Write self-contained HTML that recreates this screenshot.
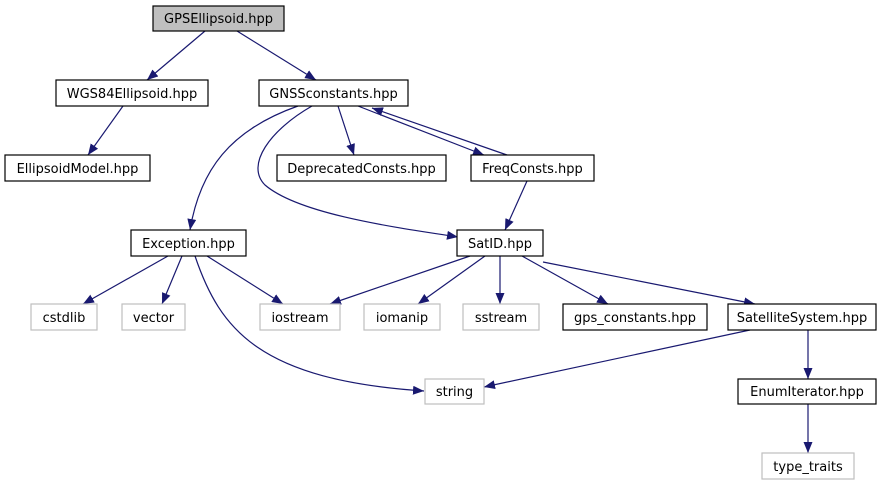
<!DOCTYPE html>
<html><head><meta charset="utf-8"><style>
html,body{margin:0;padding:0;background:#fff;}
svg{display:block;}
text{font-family:"DejaVu Sans","Liberation Sans",sans-serif;font-size:13px;fill:#000;}
.n{fill:#fff;stroke:#000;stroke-width:1.2;}
.g{fill:#fff;stroke:#bfbfbf;stroke-width:1.2;}
.e{fill:none;stroke:#191970;stroke-width:1.2;}
</style></head><body>
<svg width="887" height="485" viewBox="0 0 887 485" xmlns="http://www.w3.org/2000/svg">
<defs><marker id="a" markerWidth="11" markerHeight="9" refX="11" refY="4.5" orient="auto" markerUnits="userSpaceOnUse"><path d="M0,0 L11,4.5 L0,9 Z" fill="#191970"/></marker></defs>
<g class="e" marker-end="url(#a)">
<path d="M205,31 L147,80"/>
<path d="M237,31 L316,80"/>
<path d="M123,106 L88,155"/>
<path d="M338,106 L354,155"/>
<path d="M358,106 L484,155"/>
<path d="M507,155 L372,108"/>
<path d="M527,181 L505,230"/>
<path d="M298,106 C230,130 200,170 190,230"/>
<path d="M312,106 C270,130 245,165 265,185 C300,215 400,228 458,237"/>
<path d="M168,256 L83,304"/>
<path d="M182,256 L162,304"/>
<path d="M207,256 L283,304"/>
<path d="M195,256 C220,330 260,380 424,391"/>
<path d="M470,256 L330,304"/>
<path d="M485,256 L418,304"/>
<path d="M500,256 L500,304"/>
<path d="M522,256 L608,304"/>
<path d="M543,262 L755,304"/>
<path d="M750,330 L484,387"/>
<path d="M808,330 L808,379"/>
<path d="M808,404 L808,453"/>
</g>
<rect x="153" y="6" width="131" height="25" fill="#bfbfbf" stroke="#000" stroke-width="1.2"/><text x="218.5" y="23" text-anchor="middle">GPSEllipsoid.hpp</text>
<rect class="n" x="56" y="80" width="152" height="26"/><text x="132" y="98" text-anchor="middle">WGS84Ellipsoid.hpp</text>
<rect class="n" x="259" y="80" width="149" height="26"/><text x="333.5" y="98" text-anchor="middle">GNSSconstants.hpp</text>
<rect class="n" x="5" y="155" width="145" height="26"/><text x="77.5" y="173" text-anchor="middle">EllipsoidModel.hpp</text>
<rect class="n" x="277" y="155" width="169" height="26"/><text x="361.5" y="173" text-anchor="middle">DeprecatedConsts.hpp</text>
<rect class="n" x="471" y="155" width="123" height="26"/><text x="532.5" y="173" text-anchor="middle">FreqConsts.hpp</text>
<rect class="n" x="131" y="230" width="115" height="26"/><text x="188.5" y="248" text-anchor="middle">Exception.hpp</text>
<rect class="n" x="457" y="230" width="86" height="26"/><text x="500" y="248" text-anchor="middle">SatID.hpp</text>
<rect class="g" x="31" y="304" width="66" height="26"/><text x="64" y="322" text-anchor="middle">cstdlib</text>
<rect class="g" x="122" y="304" width="63" height="26"/><text x="153.5" y="322" text-anchor="middle">vector</text>
<rect class="g" x="260" y="304" width="80" height="26"/><text x="300" y="322" text-anchor="middle">iostream</text>
<rect class="g" x="364" y="304" width="76" height="26"/><text x="402" y="322" text-anchor="middle">iomanip</text>
<rect class="g" x="463" y="304" width="76" height="26"/><text x="501" y="322" text-anchor="middle">sstream</text>
<rect class="n" x="563" y="304" width="144" height="26"/><text x="635" y="322" text-anchor="middle">gps_constants.hpp</text>
<rect class="n" x="728" y="304" width="148" height="26"/><text x="802" y="322" text-anchor="middle">SatelliteSystem.hpp</text>
<rect class="g" x="425" y="379" width="59" height="25"/><text x="454.5" y="396" text-anchor="middle">string</text>
<rect class="n" x="738" y="379" width="138" height="25"/><text x="807" y="396" text-anchor="middle">EnumIterator.hpp</text>
<rect class="g" x="762" y="453" width="92" height="26"/><text x="808" y="471" text-anchor="middle">type_traits</text>
</svg>
</body></html>
